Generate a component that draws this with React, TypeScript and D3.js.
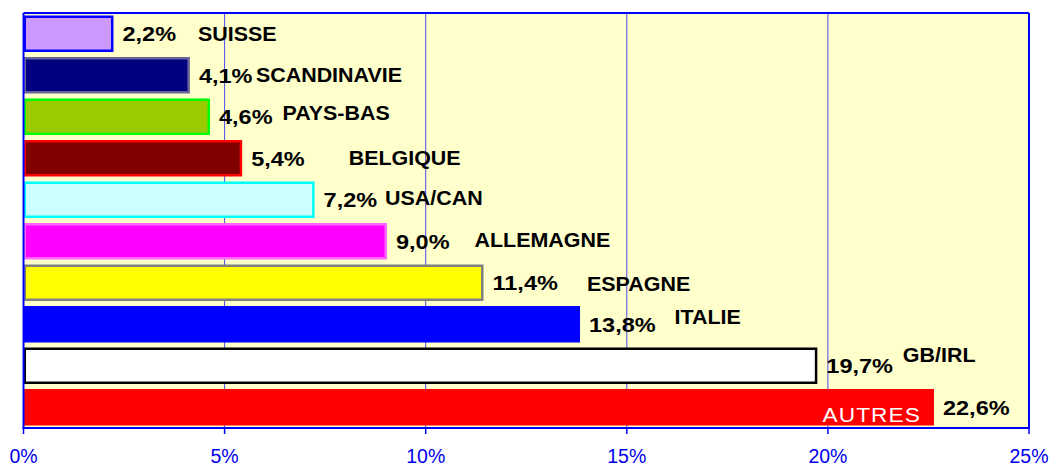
import React from "react";
import * as d3 from "d3";

const categories = ["SUISSE", "SCANDINAVIE", "PAYS-BAS", "BELGIQUE", "USA/CAN", "ALLEMAGNE", "ESPAGNE", "ITALIE", "GB/IRL", "AUTRES"];
const values = [2.2, 4.1, 4.6, 5.4, 7.2, 9.0, 11.4, 13.8, 19.7, 22.6];
const xTicks = [0, 5, 10, 15, 20, 25];

// styles
const fills = ["#CC99FF", "#000080", "#99CC00", "#800000", "#CCFFFF", "#FF00FF", "#FFFF00", "#0000FF", "#FFFFFF", "#FF0000"];
const strokes = ["#0000FF", "#666699", "#00FF00", "#FF0000", "#00FFFF", "#FF66FF", "#808080", "none", "#000000", "none"];
// label placement offsets (px) for category names, relative to bar end / bar center
const catDx = [86, 67.5, 74, 108, 72, 89, 105, 96, 87, 0];
const catDy = [0, 0, -4, 0, -2, -1, 1, -7, -11, 0];

const W = 1051, H = 468;
const M = { left: 23.5, right: 1029, top: 13, bottom: 428 };

export default function App() {
  const x = d3.scaleLinear().domain([0, 25]).range([M.left, M.right]);
  const y = d3.scaleBand<string>().domain(categories).range([M.top, M.bottom]).paddingInner(0.12).paddingOuter(0.06);
  const fmt = (v: number) => v.toFixed(1).replace(".", ",") + "%";
  const font = "'Liberation Sans', Arial, sans-serif";
  return (
    <svg width={W} height={H} style={{ position: "absolute", left: 0, top: 0 }} fontFamily={font}>
      <rect x={0} y={0} width={W} height={H} fill="#fff" />
      <rect x={M.left} y={M.top} width={M.right - M.left} height={M.bottom - M.top} fill="#FFFFCC" />
      {xTicks.slice(1, -1).map((t) => (
        <line key={t} x1={x(t)} x2={x(t)} y1={M.top} y2={M.bottom} stroke="#0000FF" strokeWidth={1} opacity={0.7} />
      ))}
      {categories.map((c, i) => {
        const y0 = y(c)!;
        const bw = y.bandwidth();
        const sw = strokes[i] === "none" ? 0 : 2.5;
        return (
          <rect key={c} x={x(0) + sw / 2} y={y0 + sw / 2} width={x(values[i]) - x(0) - sw + 1.5} height={bw - sw}
            fill={fills[i]} stroke={strokes[i]} strokeWidth={sw} />
        );
      })}
      {/* frame */}
      <line x1={M.left} x2={M.right} y1={M.top} y2={M.top} stroke="#0000FF" strokeWidth={2} />
      <line x1={M.right} x2={M.right} y1={M.top} y2={M.bottom} stroke="#0000FF" strokeWidth={2} />
      <line x1={M.left} x2={M.left} y1={M.top} y2={M.bottom} stroke="#0000FF" strokeWidth={2} />
      <line x1={M.left - 1} x2={M.right + 1} y1={M.bottom} y2={M.bottom} stroke="#0000FF" strokeWidth={2} />
      {xTicks.map((t) => (
        <g key={t}>
          <line x1={x(t)} x2={x(t)} y1={M.bottom} y2={M.bottom + 6} stroke="#0000FF" strokeWidth={1.5} />
          <text x={x(t)} y={463} textAnchor="middle" fontSize={19.5} fill="#0000EE">{t}%</text>
        </g>
      ))}
      {categories.map((c, i) => {
        const cy = y(c)! + y.bandwidth() / 2;
        const xe = x(values[i]) + 1.5;
        return (
          <g key={"l" + c}>
            <text transform={`translate(${xe + 9},${cy + 7.5}) scale(1.12,1)`} fontSize={21} fontWeight="bold" fill="#000">{fmt(values[i])}</text>
            {i < categories.length - 1 ? (
              <text transform={`translate(${xe + catDx[i] - 1.5},${cy + catDy[i] + 7}) scale(1.1,1)`} fontSize={19.5} fontWeight="bold" fill="#000">{c}</text>
            ) : (
              <text transform={`translate(${xe - 13},${cy + 15}) scale(1.08,1)`} fontSize={21} textAnchor="end" letterSpacing={1} fill="#fff">{c}</text>
            )}
          </g>
        );
      })}
    </svg>
  );
}
